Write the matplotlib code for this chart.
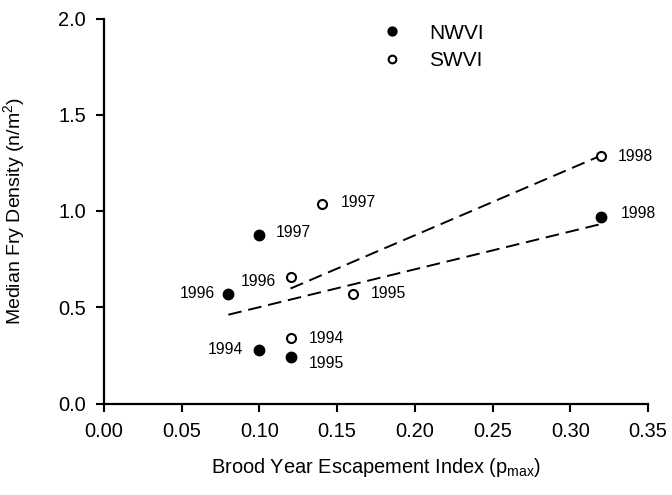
import numpy as np
import matplotlib
matplotlib.use('Agg')
import matplotlib.pyplot as plt

plt.rcParams['font.family'] = ['Liberation Sans', 'DejaVu Sans']
plt.rcParams['mathtext.fontset'] = 'custom'
plt.rcParams['mathtext.rm'] = 'Liberation Sans'
plt.rcParams['mathtext.it'] = 'Liberation Sans'

# NWVI (filled) and SWVI (open) data points
nw_x = [0.08, 0.10, 0.12, 0.10, 0.32]
nw_y = [0.57, 0.28, 0.24, 0.875, 0.97]
nw_years = ['1996', '1994', '1995', '1997', '1998']

sw_x = [0.12, 0.16, 0.12, 0.14, 0.32]
sw_y = [0.34, 0.57, 0.655, 1.035, 1.285]
sw_years = ['1994', '1995', '1996', '1997', '1998']

# label offsets in pixels (dx, dy, ha)
nw_off = [(-13, 0, 'right'), (-16, 0, 'right'), (18, -6, 'left'), (16, 3, 'left'), (19, 3, 'left')]
sw_off = [(18, 0, 'left'), (18, 0, 'left'), (-15, -4, 'right'), (19, 2, 'left'), (16, 0, 'left')]

fig = plt.figure(figsize=(6.72, 4.95), dpi=100)
ax = fig.add_axes([104 / 672, 1 - 403.5 / 495, 544 / 672, 385 / 495])

# regression lines
for xs, ys in [(nw_x, nw_y), (sw_x, sw_y)]:
    b, a = np.polyfit(xs, ys, 1)
    xx = np.array([min(xs), max(xs)])
    ax.plot(xx, a + b * xx, color='black', lw=1.4, dashes=(7, 3.5))

ax.plot(nw_x, nw_y, 'o', color='black', ms=7.5, label='NWVI', zorder=3)
ax.plot(sw_x, sw_y, 'o', mfc='white', mec='black', mew=1.5, ms=6.5, label='SWVI', zorder=3)

for xs, ys, yrs, offs in [(nw_x, nw_y, nw_years, nw_off), (sw_x, sw_y, sw_years, sw_off)]:
    for x, y, t, (dx, dy, ha) in zip(xs, ys, yrs, offs):
        ax.annotate(t, (x, y), xytext=(dx * 0.72, dy * 0.72), textcoords='offset points',
                    ha=ha, va='center', fontsize=11.3)

ax.set_xlim(0, 0.35)
ax.set_ylim(0, 2.0)
ax.set_xticks(np.arange(0, 0.351, 0.05))
ax.set_yticks(np.arange(0, 2.01, 0.5))
ax.set_xticklabels(['%.2f' % v for v in np.arange(0, 0.351, 0.05)])
ax.set_yticklabels(['%.1f' % v for v in np.arange(0, 2.01, 0.5)])
ax.tick_params(direction='out', length=6, width=1.5, labelsize=14.4, pad=7)

for s in ['top', 'right']:
    ax.spines[s].set_visible(False)
for s in ['left', 'bottom']:
    ax.spines[s].set_linewidth(1.6)

ax.set_xlabel('Brood Year Escapement Index (p$_{\\mathrm{max}}$)', fontsize=14.4)
ax.set_ylabel('Median Fry Density (n/m$^{2}$)', fontsize=14)
ax.xaxis.set_label_coords(0.5, -0.136)
ax.yaxis.set_label_coords(-0.142, 0.5)

ax.legend(loc='upper left', bbox_to_anchor=(0.475, 1.035), frameon=False, fontsize=15,
          handlelength=1.0, handletextpad=1.3, labelspacing=0.4, markerscale=0.85)

fig.savefig('out.png', dpi=100)
